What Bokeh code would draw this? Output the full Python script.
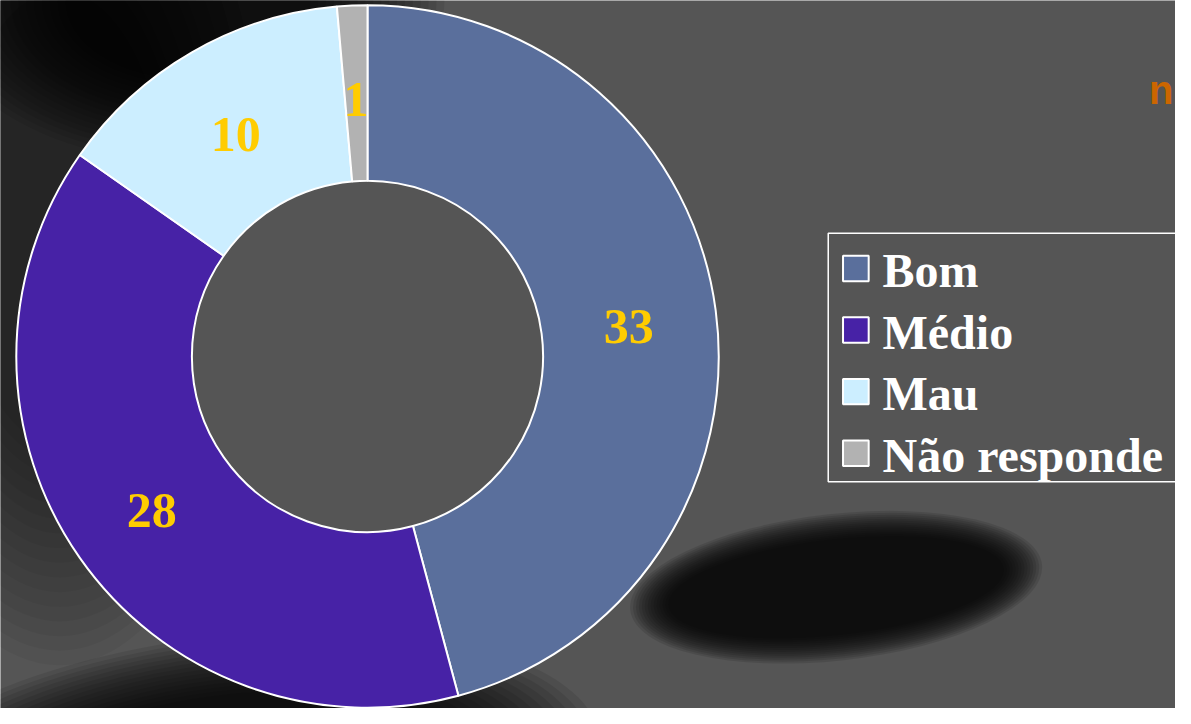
import math
from bokeh.plotting import figure
from bokeh.models import Range1d, ColumnDataSource
from bokeh.core.properties import value
from bokeh.embed import file_html
from bokeh.resources import INLINE

# ---- data ----
categories = ["Bom", "Médio", "Mau", "Não responde"]
counts = [33, 28, 10, 1]
colors = ["#5A6F9C", "#4722A6", "#CCEEFF", "#B2B2B2"]
title_text = "n"

# ---- geometry (reference pixel space, y flipped) ----
W, H = 1191, 724
def Y(y):
    return H - y

cx, cy = 372, Y(364)
r_in, r_out = 178, 356

total = sum(counts)
starts, ends, lx, ly = [], [], [], []
cum = 0
for c in counts:
    a0 = math.pi / 2 - 2 * math.pi * cum / total
    cum += c
    a1 = math.pi / 2 - 2 * math.pi * cum / total
    starts.append(a0)
    ends.append(a1)
    mid = (a0 + a1) / 2
    rm = (r_in + r_out) / 2
    lx.append(cx + rm * math.cos(mid))
    ly.append(cy + rm * math.sin(mid))

p = figure(width=1175, height=708, x_range=Range1d(0, W), y_range=Range1d(0, H),
           output_backend="svg", toolbar_location=None, min_border=0)
p.axis.visible = False
p.grid.visible = False
p.outline_line_color = None
p.background_fill_color = "#555555"
p.border_fill_color = "#555555"

# ---- background shading (soft shadows) ----
def soft(x, y, w, h, ang, n, alpha, shrink_w, shrink_h, color="black"):
    for i in range(n):
        p.ellipse(x=x, y=y, width=w - i * shrink_w, height=h - i * shrink_h, angle=ang,
                  fill_color=color, fill_alpha=alpha, line_color=None)

# top-left dark area
soft(60, Y(230), 420, 900, 0.0, 16, 0.045, 14, 30)
soft(190, Y(0), 520, 330, 0.0, 18, 0.08, 16, 10)
# bottom-left dark
soft(230, Y(800), 760, 300, 0.12, 16, 0.09, 20, 8)
# bottom-right shadow ellipse
soft(847, Y(600), 420, 150, 0.11, 14, 0.11, 6, 4)

# keep the donut hole plain
p.circle(x=[cx], y=[cy], radius=r_in, fill_color="#555555", line_color=None)

# ---- donut ----
src = ColumnDataSource(dict(start=starts, end=ends, color=colors, cat=categories))
p.annular_wedge(x=cx, y=cy, inner_radius=r_in, outer_radius=r_out,
                start_angle="start", end_angle="end", direction="clock",
                fill_color="color", line_color="white", line_width=2, source=src)

p.text(x=lx, y=ly, text=[str(c) for c in counts], text_color="#FFCC00",
       text_font=value("Liberation Serif"), text_font_style="bold",
       text_font_size="50px", text_align="center", text_baseline="middle", y_offset=4)

# ---- legend ----
leg_left, leg_top, leg_bottom = 839, Y(238), Y(492)
p.quad(left=[leg_left], right=[1240], top=[leg_top], bottom=[leg_bottom],
       fill_color=None, line_color="white", line_width=1.5)
step = 63
ys = [Y(274 + i * step) for i in range(len(categories))]
p.rect(x=[867] * len(categories), y=ys, width=26, height=26, fill_color=colors,
       line_color="white", line_width=2)
p.text(x=[894] * len(categories), y=ys, text=categories, text_color="white",
       text_font=value("Liberation Serif"), text_font_style="bold",
       text_font_size="48px", text_align="left", text_baseline="middle", y_offset=2)

# ---- title (cut off in the reference; kept visible at the right edge) ----
p.text(x=[W - 2], y=[Y(92)], text=[title_text], text_color="#CC6600",
       text_font=value("Liberation Sans"), text_font_style="bold",
       text_font_size="40px", text_align="right", text_baseline="alphabetic")

open("out.html", "w").write(file_html(p, INLINE))
